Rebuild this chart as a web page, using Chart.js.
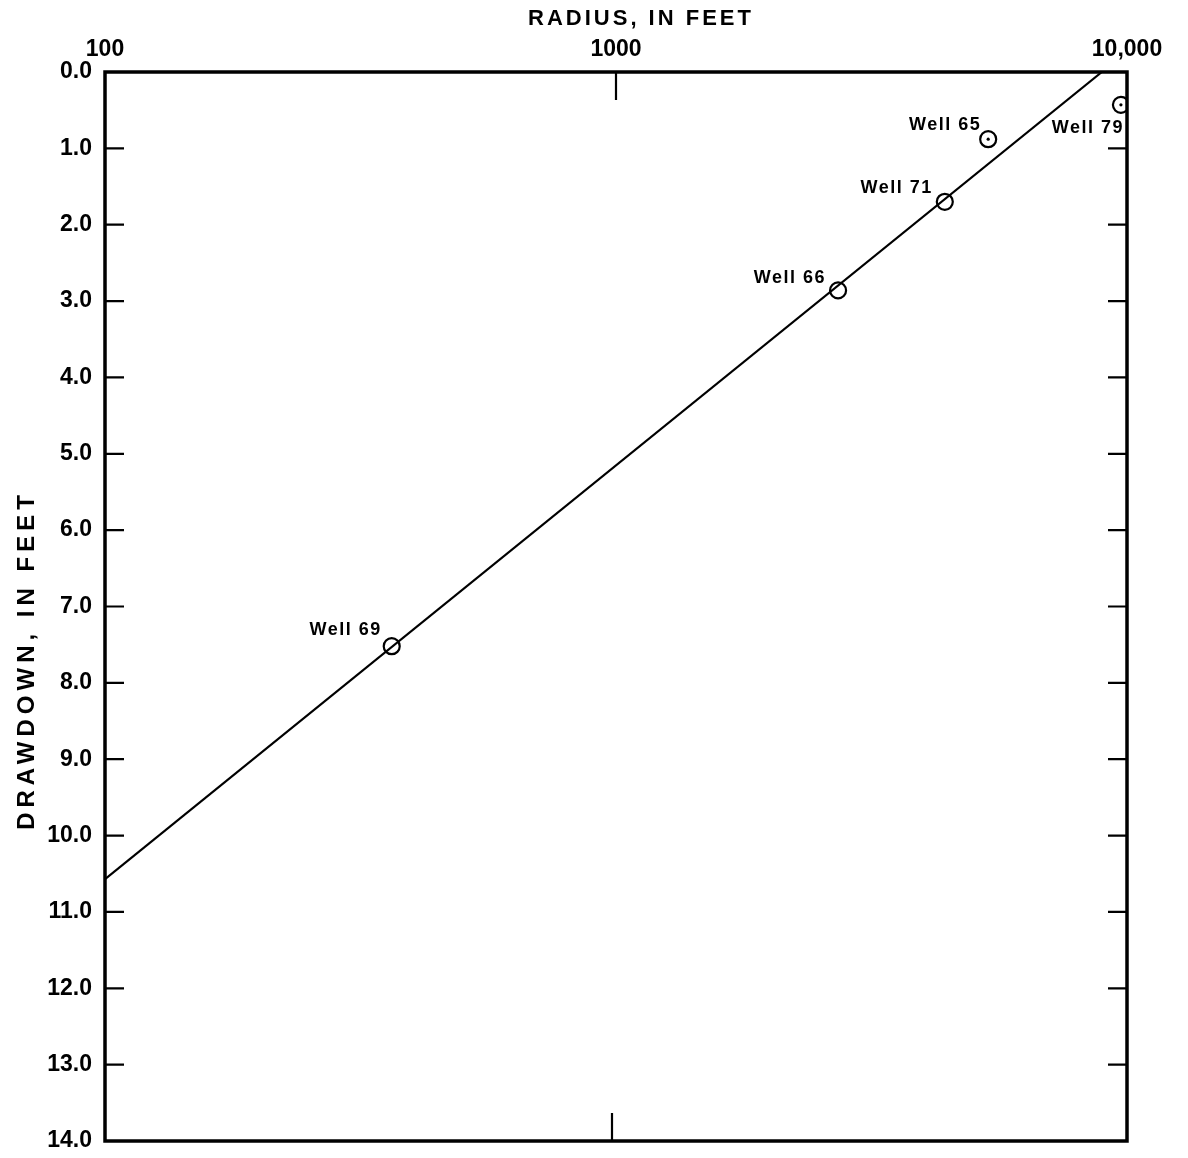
<!DOCTYPE html>
<html>
<head>
<meta charset="utf-8">
<script src="https://cdn.jsdelivr.net/npm/chart.js@4.4.1/dist/chart.umd.min.js"></script>
<style>
  html, body { margin: 0; padding: 0; background: #fff; }
  canvas { display: block; }
</style>
</head>
<body>
<canvas id="chart" width="1188" height="1158"></canvas>
<script>
// datos
const wellNames = ["Well 69", "Well 66", "Well 71", "Well 65", "Well 79"];
const wellRadius = [364, 2720, 4400, 5350, 9730];     // pies
const wellDrawdown = [7.52, 2.86, 1.70, 0.88, 0.43]; // pies
const dottedWells = ["Well 65", "Well 79"];

const fitRadius = [100, 8930];
const fitDrawdown = [10.57, 0.0];

const xTickValues = [100, 1000, 10000];
const xTickLabels = ["100", "1000", "10,000"];
const yTickMarks = [1, 2, 3, 4, 5, 6, 7, 8, 9, 10, 11, 12, 13];

// donde va cada etiqueta respecto a su punto
const labelPlace = {
  "Well 69": { dx: -10, dy: -7, align: "right", base: "bottom" },
  "Well 66": { dx: -12, dy: -3, align: "right", base: "bottom" },
  "Well 71": { dx: -12, dy: -5, align: "right", base: "bottom" },
  "Well 65": { dx: -7, dy: -5, align: "right", base: "bottom" },
  "Well 79": { dx: 3, dy: 14, align: "right", base: "top" }
};

const FONT = "'Liberation Sans', Arial, sans-serif";

const wellPoints = wellNames.map((n, i) => ({ x: wellRadius[i], y: wellDrawdown[i], name: n }));
const dotPoints = wellPoints.filter(p => dottedWells.includes(p.name));
const fitPoints = fitRadius.map((r, i) => ({ x: r, y: fitDrawdown[i] }));

// marco, marcas interiores, titulos y etiquetas
const framePlugin = {
  id: "frame",
  afterDatasetsDraw(chart) {
    const { ctx, chartArea: a, scales } = chart;
    ctx.save();
    ctx.strokeStyle = "#000";
    ctx.lineWidth = 2.2;
    ctx.beginPath();
    yTickMarks.forEach(v => {
      const y = scales.y.getPixelForValue(v);
      ctx.moveTo(a.left, y); ctx.lineTo(a.left + 19, y);
      ctx.moveTo(a.right, y); ctx.lineTo(a.right - 19, y);
    });
    const x1000 = scales.x.getPixelForValue(1000);
    ctx.moveTo(x1000, a.top); ctx.lineTo(x1000, a.top + 28);
    ctx.moveTo(x1000 - 4, a.bottom); ctx.lineTo(x1000 - 4, a.bottom - 28);
    ctx.stroke();

    ctx.lineWidth = 3.5;
    ctx.strokeRect(a.left, a.top, a.right - a.left, a.bottom - a.top);

    // etiquetas de los pozos
    ctx.fillStyle = "#000";
    ctx.font = "bold 18px " + FONT;
    ctx.letterSpacing = "1.5px";
    wellPoints.forEach(p => {
      const pl = labelPlace[p.name];
      const px = scales.x.getPixelForValue(p.x);
      const py = scales.y.getPixelForValue(p.y);
      ctx.textAlign = pl.align;
      ctx.textBaseline = pl.base;
      ctx.fillText(p.name, px + pl.dx, py + pl.dy);
    });

    // titulos de los ejes
    ctx.textAlign = "center";
    ctx.textBaseline = "middle";
    ctx.font = "bold 22px " + FONT;
    ctx.letterSpacing = "3px";
    ctx.fillText("RADIUS, IN FEET", 641, 19);
    ctx.font = "bold 24px " + FONT;
    ctx.letterSpacing = "5px";
    ctx.translate(27, 660);
    ctx.rotate(-Math.PI / 2);
    ctx.fillText("DRAWDOWN, IN FEET", 0, 0);
    ctx.restore();
  }
};

new Chart(document.getElementById("chart"), {
  type: "scatter",
  data: {
    datasets: [
      {
        label: "Fit",
        data: fitPoints,
        showLine: true,
        borderColor: "#000",
        borderWidth: 2.2,
        pointRadius: 0
      },
      {
        label: "Wells",
        data: wellPoints,
        pointStyle: "circle",
        pointRadius: 8,
        pointBorderWidth: 2.2,
        pointBorderColor: "#000",
        pointBackgroundColor: "rgba(0,0,0,0)"
      },
      {
        label: "Dot",
        data: dotPoints,
        pointRadius: 1.6,
        pointBorderWidth: 0,
        pointBackgroundColor: "#000"
      }
    ]
  },
  options: {
    responsive: false,
    animation: false,
    layout: { padding: { left: 0, top: 0, right: 61, bottom: 17 } },
    plugins: { legend: { display: false }, tooltip: { enabled: false } },
    scales: {
      x: {
        type: "logarithmic",
        position: "top",
        min: 100,
        max: 10000,
        afterBuildTicks: s => { s.ticks = xTickValues.map(v => ({ value: v })); },
        afterFit: s => { s.height = 72; s.paddingLeft = 0; s.paddingRight = 0; },
        grid: { display: false, drawTicks: false },
        border: { display: false },
        ticks: {
          padding: 9,
          color: "#000",
          font: { family: FONT, size: 23, weight: "bold" },
          maxRotation: 0,
          autoSkip: false,
          callback: (v) => {
            const i = xTickValues.indexOf(v);
            return i >= 0 ? xTickLabels[i] : "";
          }
        }
      },
      y: {
        type: "linear",
        reverse: true,
        min: 0,
        max: 14,
        afterFit: s => { s.width = 105; s.paddingTop = 0; s.paddingBottom = 0; },
        grid: { display: false, drawTicks: false },
        border: { display: false },
        ticks: {
          stepSize: 1,
          padding: 13,
          color: "#000",
          font: { family: FONT, size: 23, weight: "bold" },
          callback: v => v.toFixed(1)
        }
      }
    }
  },
  plugins: [framePlugin]
});
</script>
</body>
</html>
